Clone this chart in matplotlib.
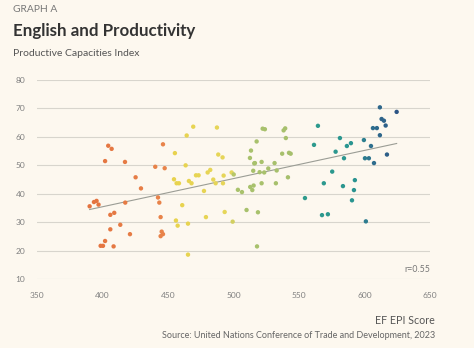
import numpy as np
import matplotlib
matplotlib.use("Agg")
import matplotlib.pyplot as plt
from matplotlib.colors import LinearSegmentedColormap

# EF EPI score (x) and Productive Capacities Index (y)
epi = [390.2, 393.5, 395.5, 397.0, 404.4, 407.0, 402.0, 406.0, 409.0, 406.0,
       402.0, 398.6, 400.4, 408.5, 413.6, 417.2, 425.3, 421.0, 417.4, 429.4,
       442.4, 443.4, 444.4, 445.2, 446.2, 444.4, 446.2, 440.3, 447.5,
       469.3, 487.4, 464.3, 455.3, 488.4, 491.7, 463.5, 454.6, 471.4, 473.4,
       480.3, 482.3, 484.6, 492.5, 498.6, 500.2, 456.6, 458.4, 466.0, 468.0,
       486.4, 492.0, 477.5, 460.9, 493.3, 479.0, 456.1, 457.4, 465.3, 499.4,
       465.3,
       513.4, 515.9, 515.1, 503.4, 506.5, 512.8, 514.4, 515.4, 510.0, 518.0,
       522.3, 524.0, 538.3, 539.5, 540.0, 517.7, 537.2, 542.4, 543.7, 516.4,
       521.5, 531.4, 512.6, 520.0, 523.5, 526.6, 533.0, 521.5, 532.4, 541.6,
       518.7,
       564.5, 561.5, 578.0, 575.4, 569.0, 581.3, 586.6, 589.7, 584.4, 592.7,
       583.6, 592.0, 590.5, 567.6, 572.1, 554.6,
       611.8, 613.1, 614.9, 616.2, 611.8, 624.6, 617.2, 599.6, 606.5, 609.5,
       605.0, 600.4, 603.4, 607.3, 601.1]
pci = [35.6, 37.1, 37.5, 36.2, 56.9, 55.8, 51.5, 32.6, 33.3, 27.5,
       23.4, 21.7, 21.7, 21.5, 29.1, 51.2, 45.8, 25.8, 36.9, 41.9,
       38.7, 36.9, 31.8, 26.7, 25.8, 25.1, 57.4, 49.5, 49.0,
       63.6, 63.3, 60.5, 54.3, 53.8, 52.8, 50.0, 45.1, 46.5, 46.5,
       47.5, 48.4, 45.0, 46.4, 47.5, 46.8, 43.7, 43.7, 44.5, 43.7,
       43.7, 43.7, 41.0, 36.0, 33.6, 31.8, 30.6, 28.8, 29.5, 30.2,
       18.6,
       55.2, 50.7, 48.1, 41.4, 40.6, 42.4, 41.3, 42.9, 34.3, 21.5,
       62.9, 62.7, 62.3, 63.0, 59.6, 58.4, 54.1, 54.4, 54.1, 50.8,
       51.2, 50.8, 52.6, 47.6, 47.5, 48.9, 48.2, 43.7, 43.7, 45.8,
       33.5,
       63.9, 57.2, 54.8, 47.8, 43.7, 59.6, 56.8, 57.8, 52.5, 44.8,
       42.7, 41.3, 37.7, 32.5, 32.8, 38.5,
       70.4, 66.3, 65.7, 64.0, 60.6, 68.8, 53.8, 58.9, 63.1, 63.1,
       56.8, 52.5, 52.5, 50.8, 30.3]

x_ticks = [350, 400, 450, 500, 550, 600, 650]
y_ticks = [10, 20, 30, 40, 50, 60, 70, 80]
r_label = "r=0.55"

plt.rcParams['font.family'] = ['Lato', 'DejaVu Sans']
bg = '#fdf8ef'
fig = plt.figure(figsize=(4.74, 3.48), dpi=100, facecolor=bg)
ax = fig.add_axes([0.078, 0.198, 0.829, 0.572], facecolor=bg)

x = np.array(epi)
y = np.array(pci)
lo, hi = 390.0, 625.0
def f(v):
    return (v - lo) / (hi - lo)
cmap = LinearSegmentedColormap.from_list(
    'epi', [(0.0, '#e4733f'), (f(448), '#e8844a'), (f(450), '#e8d24c'),
            (f(499), '#e6d65a'), (f(501), '#a9c26c'), (f(549), '#a6bf6c'),
            (f(552), '#2e9c8c'), (f(592), '#2a9590'), (f(606), '#2f6f8e'),
            (1.0, '#2c5585')])
norm = plt.Normalize(lo, hi)
ax.scatter(x, y, s=10, c=x, cmap=cmap, norm=norm, linewidths=0, zorder=3)

coef = np.polyfit(x, y, 1)
xl = np.array([x.min(), x.max()])
ax.plot(xl, np.polyval(coef, xl), color='#9b9d95', lw=0.8, zorder=2)

ax.set_xlim(350, 650)
ax.set_ylim(10, 80)
ax.set_xticks(x_ticks)
ax.set_yticks(y_ticks)
ax.grid(axis='y', color='#d8d5cd', lw=0.8)
ax.grid(axis='x', visible=False)
for s in ax.spines.values():
    s.set_visible(False)
ax.tick_params(length=0, labelsize=6, labelcolor='#808080')
ax.tick_params(axis='y', pad=8.5)
ax.tick_params(axis='x', pad=9)
ax.set_axisbelow(True)

ax.text(1.0, 0.025, r_label, transform=ax.transAxes, ha='right', va='bottom',
        fontsize=6.3, color='#777777')

fig.text(13/474, 1 - 10/348, "GRAPH A", fontsize=7.4, color='#777777',
         ha='left', va='center')
fig.text(13/474, 1 - 31/348, "English and Productivity", fontsize=12.2,
         fontweight='bold', color='#333333', ha='left', va='center')
fig.text(13/474, 1 - 53/348, "Productive Capacities Index", fontsize=7.5,
         color='#555555', ha='left', va='center')
fig.text(435/474, 1 - 320/348, "EF EPI Score", fontsize=7.7,
         color='#555555', ha='right', va='center')
fig.text(435/474, 1 - 335/348,
         "Source: United Nations Conference of Trade and Development, 2023",
         fontsize=6.45, color='#666666', ha='right', va='center')

fig.savefig('out.png', dpi=100, facecolor=bg)
